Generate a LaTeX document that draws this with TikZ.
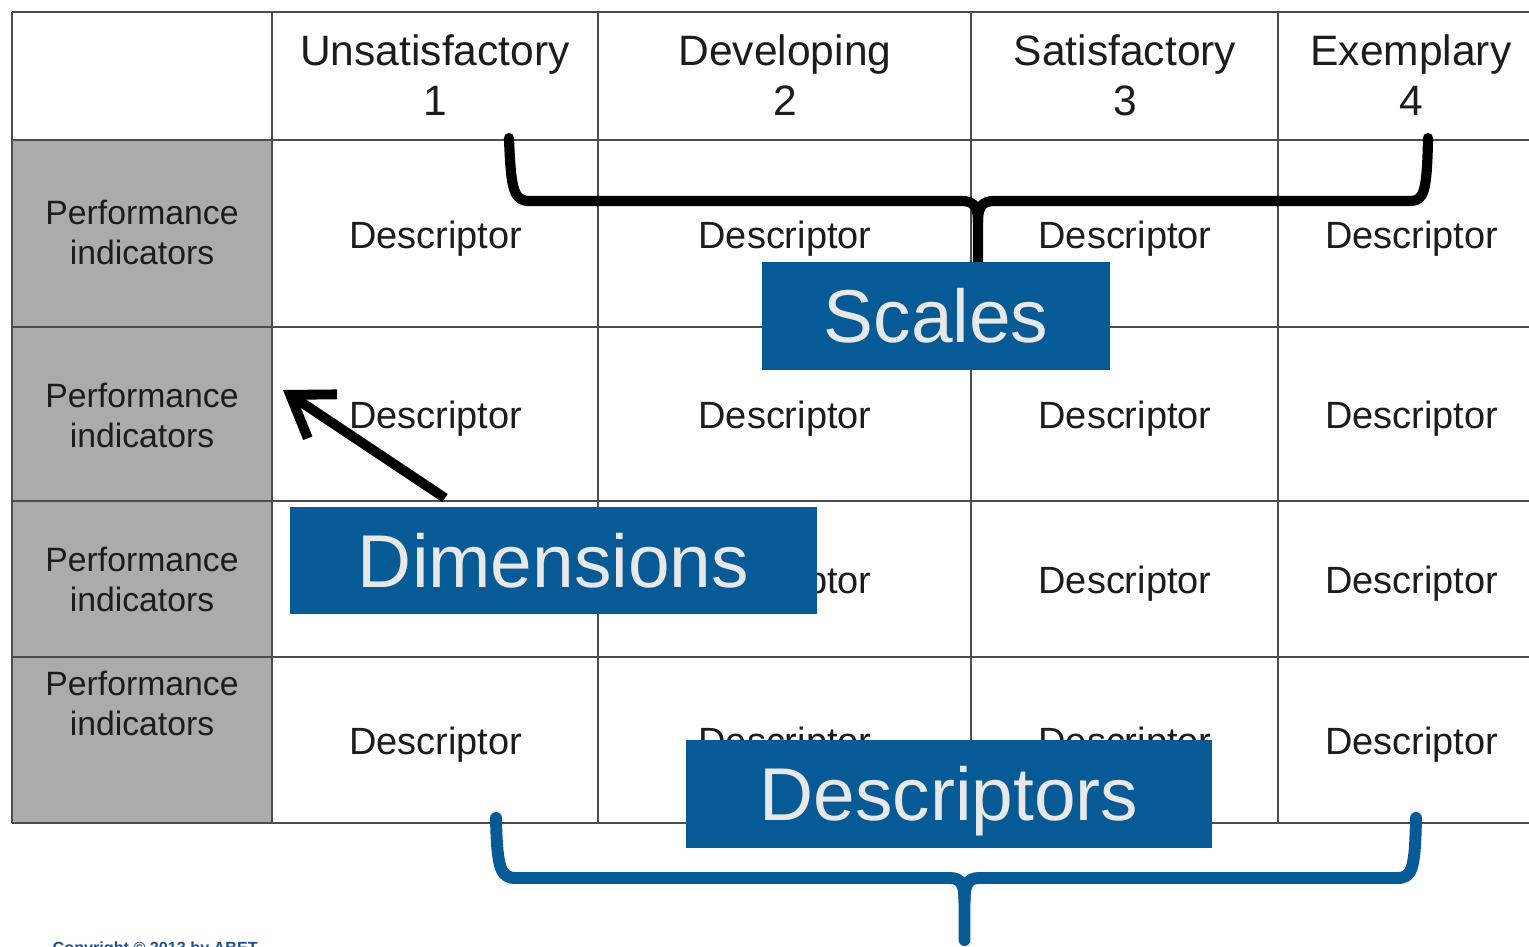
\documentclass[tikz,border=0pt]{standalone}
\usepackage{fontspec}
\setmainfont{Liberation Sans}
\usetikzlibrary{arrows.meta}

\definecolor{cellgray}{HTML}{ABABAB}
\definecolor{rubricblue}{HTML}{065A96}
\definecolor{labeltext}{HTML}{E8E8E8}
\definecolor{inktext}{HTML}{1C1C1C}
\definecolor{copyblue}{HTML}{1F4E8C}

\tikzset{
    gridline/.style={line width=0.6pt, gray!60!black},
    headtext/.style={align=center, text=inktext, font=\fontsize{12.1}{14.2}\selectfont},
    desctext/.style={text=inktext, font=\fontsize{10.8}{12.9}\selectfont, text height=7.7pt, text depth=0pt},
    pitext/.style={align=center, text=inktext, font=\fontsize{9.6}{11.4}\selectfont},
    bluebox/.style={fill=rubricblue, text=labeltext, inner sep=0pt, font=\fontsize{21.3}{25}\selectfont, text height=15.2pt, text depth=0pt},
    scalebrace/.style={line width=2.9pt, black, line cap=round, line join=round},
    descbrace/.style={line width=3.4pt, rubricblue, line cap=round, line join=round}
}

\begin{document}
\begin{tikzpicture}
    \useasboundingbox (0,0) rectangle (15.29,-9.46);

    % Columna de indicadores
    \fill[cellgray] (0.12,-1.40) rectangle (2.72,-8.23);

    % Cuadricula
    \foreach \y in {0.12,1.40,3.27,5.01,6.57,8.23}
        \draw[gridline] (0.12,-\y) -- (15.40,-\y);
    \foreach \x in {0.12,2.72,5.98,9.71,12.78}
        \draw[gridline] (\x,-0.12) -- (\x,-8.23);

    % Encabezados
    \foreach \x/\name/\num [count=\i] in {4.35/Unsatisfactory/1, 7.85/Developing/2, 11.25/Satisfactory/3, 14.11/Exemplary/4}
        \node[headtext] (head\i) at (\x,-0.75) {\name\\\num};

    % Indicadores
    \foreach \y [count=\j] in {2.32,4.15,5.79,7.03}
        \node[pitext] (pi\j) at (1.42,-\y) {Performance\\indicators};

    % Descriptores
    \foreach \x [count=\i] in {4.355,7.85,11.25,14.115}
        \foreach \y [count=\j] in {2.345,4.15,5.80,7.41}
            \node[desctext] (desc\i\j) at (\x,-\y) {Descriptor};

    % Llave de escalas
    \coordinate (sL) at (5.09,-1.38);
    \coordinate (sR) at (14.28,-1.38);
    \coordinate (sM) at (9.78,-2.01);
    \node[bluebox, minimum width=3.48cm, minimum height=1.08cm] (scales) at (9.36,-3.16) {Scales};
    \draw[scalebrace] (sL) .. controls (5.11,-1.92) and (5.14,-2.01) .. (5.30,-2.01) -- (9.62,-2.01)
        .. controls (9.74,-2.01) and (9.78,-2.07) .. (9.78,-2.22) -- (scales.north -| sM);
    \draw[scalebrace] (9.78,-2.22) .. controls (9.78,-2.07) and (9.82,-2.01) .. (9.94,-2.01) -- (14.10,-2.01)
        .. controls (14.24,-2.01) and (14.27,-1.92) .. (sR);
    \node[bluebox, minimum width=3.48cm, minimum height=1.08cm] at (scales) {Scales};

    % Flecha de dimensiones
    \coordinate (dimtail) at (4.45,-4.98);
    \coordinate (dimtip) at (2.83,-3.90);
    \draw[line width=2.8pt, -{Straight Barb[length=11pt, width=15pt]}] (dimtail) -- (dimtip);
    \node[bluebox, minimum width=5.27cm, minimum height=1.07cm] (dims) at (5.535,-5.605) {Dimensions};

    % Llave de descriptores
    \coordinate (dL) at (4.96,-8.18);
    \coordinate (dR) at (14.16,-8.18);
    \coordinate (dM) at (9.645,-9.40);
    \draw[descbrace] (dL) .. controls (4.97,-8.70) and (5.01,-8.78) .. (5.16,-8.78) -- (9.50,-8.78)
        .. controls (9.62,-8.78) and (9.645,-8.86) .. (9.645,-9.02) -- (dM);
    \draw[descbrace] (9.645,-9.02) .. controls (9.645,-8.86) and (9.67,-8.78) .. (9.79,-8.78) -- (13.97,-8.78)
        .. controls (14.12,-8.78) and (14.15,-8.70) .. (dR);
    \node[bluebox, minimum width=5.26cm, minimum height=1.08cm] (descs) at (9.49,-7.94) {Descriptors};

    % Pie
    \node[anchor=base west, inner sep=0pt, text=copyblue, font=\fontsize{4.6}{5.5}\selectfont\bfseries] (copyr) at (0.52,-9.53) {Copyright © 2013 by ABET};
\end{tikzpicture}
\end{document}
